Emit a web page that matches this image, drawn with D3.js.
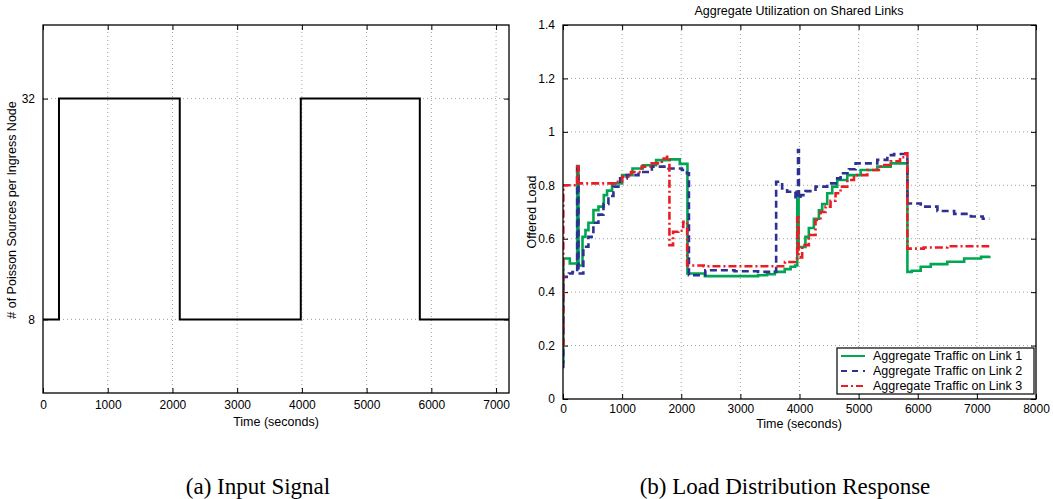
<!DOCTYPE html>
<html>
<head>
<meta charset="utf-8">
<script src="https://cdn.jsdelivr.net/npm/d3@7"></script>
<style>
  html, body { margin: 0; padding: 0; background: #fff; }
  svg { display: block; }
  text { font-family: "Liberation Sans", Arial, Helvetica, sans-serif; fill: #000; }
  .caption { font-family: "Liberation Serif", "Times New Roman", serif; }
</style>
</head>
<body>
<svg id="fig" width="1053" height="499"></svg>
<script>
// ---- Panel (a): input signal (number of Poisson sources per ingress node) ----
const signalTime = [0, 247, 2113, 3983, 5822, 7200];
const signalSources = [8, 32, 8, 32, 8, 8];
const signalXTicks = [0, 1000, 2000, 3000, 4000, 5000, 6000, 7000];
const signalYTicks = [8, 32];

// ---- Panel (b): offered load on the three shared links ----
const link1Time = [0, 5, 115, 240, 262, 330, 380, 430, 515, 600, 690, 745, 830, 1000, 1175, 1350, 1575, 1805, 1975, 2105, 2400, 3300, 3450, 3580, 3750, 3850, 3925, 3962, 3985, 4100, 4158, 4243, 4328, 4384, 4469, 4554, 4638, 4808, 5034, 5316, 5542, 5825, 5900, 6050, 6220, 6500, 6785, 7070, 7210];
const link1Load = [0.14, 0.526, 0.507, 0.872, 0.50, 0.607, 0.632, 0.66, 0.707, 0.72, 0.763, 0.78, 0.807, 0.838, 0.863, 0.875, 0.894, 0.897, 0.88, 0.47, 0.46, 0.463, 0.467, 0.476, 0.486, 0.495, 0.50, 0.75, 0.569, 0.607, 0.64, 0.675, 0.706, 0.73, 0.77, 0.795, 0.82, 0.838, 0.857, 0.87, 0.882, 0.476, 0.48, 0.495, 0.505, 0.514, 0.526, 0.532, 0.536];

const link2Time = [0, 5, 100, 160, 240, 262, 344, 430, 514, 599, 684, 768, 853, 966, 1079, 1277, 1503, 1785, 2011, 2096, 2130, 2407, 2900, 3300, 3605, 3706, 3791, 3932, 3975, 3990, 4017, 4102, 4271, 4469, 4610, 4695, 4836, 4949, 5316, 5486, 5600, 5825, 6051, 6333, 6616, 6898, 7100, 7210];
const link2Load = [0.12, 0.457, 0.47, 0.475, 0.863, 0.47, 0.57, 0.607, 0.66, 0.69, 0.73, 0.76, 0.795, 0.826, 0.838, 0.85, 0.87, 0.863, 0.857, 0.845, 0.463, 0.482, 0.478, 0.476, 0.813, 0.788, 0.776, 0.75, 0.932, 0.75, 0.763, 0.778, 0.795, 0.807, 0.826, 0.845, 0.86, 0.882, 0.895, 0.913, 0.917, 0.732, 0.72, 0.704, 0.693, 0.683, 0.675, 0.675];

const link3Time = [0, 5, 240, 262, 880, 1000, 1150, 1330, 1500, 1672, 1760, 1800, 1862, 1950, 2034, 2100, 2380, 3754, 3926, 3962, 3985, 4045, 4158, 4271, 4356, 4441, 4525, 4610, 4695, 4808, 4921, 5147, 5373, 5542, 5700, 5790, 5825, 6100, 6500, 7210];
const link3Load = [0.2, 0.80, 0.87, 0.807, 0.813, 0.832, 0.85, 0.87, 0.882, 0.90, 0.907, 0.576, 0.626, 0.63, 0.663, 0.50, 0.497, 0.513, 0.526, 0.68, 0.53, 0.576, 0.614, 0.67, 0.70, 0.72, 0.742, 0.77, 0.795, 0.82, 0.838, 0.857, 0.876, 0.89, 0.905, 0.92, 0.563, 0.567, 0.572, 0.572];

const loadXTicks = [0, 1000, 2000, 3000, 4000, 5000, 6000, 7000, 8000];
const loadYTicks = [0, 0.2, 0.4, 0.6, 0.8, 1, 1.2, 1.4];

const linkNames = ["Aggregate Traffic on Link 1", "Aggregate Traffic on Link 2", "Aggregate Traffic on Link 3"];
const linkColors = ["#00a651", "#2e3192", "#ed1c24"];
const linkDashes = [null, "7,4", "8,3,2,3"];

const svg = d3.select("#fig");
const TICK = 5;

// Draws a MATLAB-style boxed axes: dotted grid, inward ticks on all four sides.
function boxedAxes(g, x, y, xTicks, yTicks, fmtY, padX) {
  const [x0, x1] = x.range();
  const [y0, y1] = y.range(); // y0 bottom, y1 top
  const grid = g.append("g").attr("stroke", "#8a8a8a").attr("stroke-width", 0.8).attr("stroke-dasharray", "1,3");
  grid.selectAll("line.gx").data(xTicks.filter(t => x(t) > x0 + 1 && x(t) < x1 - 1)).join("line")
    .attr("x1", d => x(d)).attr("x2", d => x(d)).attr("y1", y0).attr("y2", y1);
  grid.selectAll("line.gy").data(yTicks.filter(t => y(t) < y0 - 1 && y(t) > y1 + 1)).join("line")
    .attr("y1", d => y(d)).attr("y2", d => y(d)).attr("x1", x0).attr("x2", x1);

  const axB = g.append("g").attr("transform", `translate(0,${y0})`)
    .call(d3.axisBottom(x).tickValues(xTicks).tickSizeInner(-TICK).tickSizeOuter(0).tickPadding(padX).tickFormat(d3.format("d")));
  const axT = g.append("g").attr("transform", `translate(0,${y1})`)
    .call(d3.axisTop(x).tickValues(xTicks).tickSizeInner(-TICK).tickSizeOuter(0).tickFormat(""));
  const axL = g.append("g").attr("transform", `translate(${x0},0)`)
    .call(d3.axisLeft(y).tickValues(yTicks).tickSizeInner(-TICK).tickSizeOuter(0).tickPadding(8).tickFormat(fmtY));
  const axR = g.append("g").attr("transform", `translate(${x1},0)`)
    .call(d3.axisRight(y).tickValues(yTicks).tickSizeInner(-TICK).tickSizeOuter(0).tickFormat(""));
  [axB, axT, axL, axR].forEach(a => {
    a.select(".domain").remove();
    a.selectAll(".tick line").attr("stroke", "#000").attr("stroke-width", 1);
    a.selectAll("text").attr("font-size", 12).attr("fill", "#000")
      .attr("font-family", '"Liberation Sans", Arial, sans-serif');
  });
  axB.selectAll("text").attr("dy", "0.71em");
  return { axB, axL };
}

function frame(g, x, y) {
  const [x0, x1] = x.range();
  const [y0, y1] = y.range();
  g.append("rect").attr("x", x0).attr("y", y1).attr("width", x1 - x0).attr("height", y0 - y1)
    .attr("fill", "none").attr("stroke", "#000").attr("stroke-width", 1.3);
}

// ---------------- Panel (a) ----------------
{
  const g = svg.append("g");
  const x = d3.scaleLinear().domain([0, 7200]).range([43, 509]);
  const y = d3.scaleLinear().domain([0, 40]).range([393, 25]);
  boxedAxes(g, x, y, signalXTicks, signalYTicks, d3.format("d"), 7);

  const line = d3.line().x(d => x(d[0])).y(d => y(d[1])).curve(d3.curveStepAfter);
  g.append("path").datum(d3.zip(signalTime, signalSources))
    .attr("d", line).attr("fill", "none").attr("stroke", "#000").attr("stroke-width", 2);
  frame(g, x, y);

  g.append("text").attr("x", 276).attr("y", 426).attr("text-anchor", "middle")
    .attr("font-size", 12.5).text("Time (seconds)");
  g.append("text").attr("transform", "translate(16,210) rotate(-90)").attr("text-anchor", "middle")
    .attr("font-size", 12.5).text("# of Poisson Sources per Ingress Node");
}

// ---------------- Panel (b) ----------------
{
  const g = svg.append("g");
  const x = d3.scaleLinear().domain([0, 8000]).range([563, 1036]);
  const y = d3.scaleLinear().domain([0, 1.4]).range([399, 25]);
  boxedAxes(g, x, y, loadXTicks, loadYTicks, d => String(d), 5);

  svg.append("defs").append("clipPath").attr("id", "plotB")
    .append("rect").attr("x", 563).attr("y", 25).attr("width", 1036 - 563).attr("height", 399 - 25);

  const line = d3.line().x(d => x(d[0])).y(d => y(d[1])).curve(d3.curveStepAfter);
  const series = [
    d3.zip(link1Time, link1Load),
    d3.zip(link2Time, link2Load),
    d3.zip(link3Time, link3Load)
  ];
  const lines = g.append("g").attr("clip-path", "url(#plotB)");
  series.forEach((s, i) => {
    lines.append("path").datum(s).attr("d", line)
      .attr("fill", "none").attr("stroke", linkColors[i]).attr("stroke-width", 2.6)
      .attr("stroke-linejoin", "miter")
      .attr("stroke-dasharray", linkDashes[i]);
  });
  frame(g, x, y);

  g.append("text").attr("x", 799).attr("y", 11).attr("dy", "0.35em").attr("text-anchor", "middle")
    .attr("font-size", 12.5).text("Aggregate Utilization on Shared Links");
  g.append("text").attr("x", 799).attr("y", 428).attr("text-anchor", "middle")
    .attr("font-size", 12.5).text("Time (seconds)");
  g.append("text").attr("transform", "translate(536,212) rotate(-90)").attr("text-anchor", "middle")
    .attr("font-size", 12.5).text("Offered Load");

  // legend
  const lg = g.append("g");
  lg.append("rect").attr("x", 837).attr("y", 348).attr("width", 197).attr("height", 46)
    .attr("fill", "#fff").attr("stroke", "#000").attr("stroke-width", 1.2);
  linkNames.forEach((name, i) => {
    const ry = 356 + i * 15;
    lg.append("line").attr("x1", 841).attr("x2", 865).attr("y1", ry).attr("y2", ry)
      .attr("stroke", linkColors[i]).attr("stroke-width", 2)
      .attr("stroke-dasharray", i === 1 ? "6,5" : i === 2 ? "7,3,2,3" : null);
    lg.append("text").attr("x", 873).attr("y", ry).attr("dy", "0.35em")
      .attr("font-size", 12.5).text(name);
  });
}

// ---------------- Captions ----------------
svg.append("text").attr("class", "caption").attr("x", 258).attr("y", 494).attr("text-anchor", "middle")
  .attr("font-size", 23).text("(a) Input Signal");
svg.append("text").attr("class", "caption").attr("x", 785).attr("y", 494).attr("text-anchor", "middle")
  .attr("font-size", 23).text("(b) Load Distribution Response");
</script>
</body>
</html>
